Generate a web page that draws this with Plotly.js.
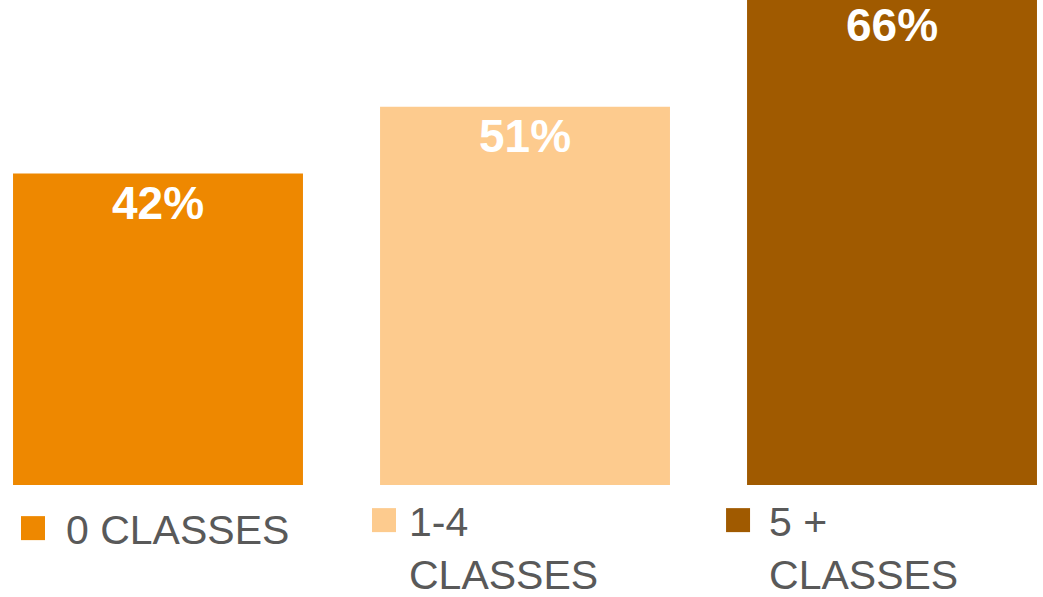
<!DOCTYPE html>
<html>
<head>
<meta charset="utf-8">
<script src="https://cdn.plot.ly/plotly-3.0.1.min.js"></script>
<style>html,body{margin:0;padding:0;background:#fff;}#chart{width:1043px;height:597px;}</style>
</head>
<body>
<div id="chart"></div>
<script>
const categories = ['0 CLASSES', '1-4 CLASSES', '5 + CLASSES'];
const legendLabels = ['0 CLASSES', '1-4<br>CLASSES', '5 +<br>CLASSES'];
const values = [42, 51, 66];
const valueLabels = values.map(v => v + '%');
const colors = ['#EE8800', '#FDCB8E', '#A05A00'];
const legendIds = ['legend', 'legend2', 'legend3'];

const traces = categories.map((c, i) => ({
  type: 'bar',
  x: [c],
  y: [values[i]],
  name: legendLabels[i],
  legend: legendIds[i],
  text: [valueLabels[i]],
  textposition: 'inside',
  insidetextanchor: 'end',
  textangle: 0,
  textfont: {family: 'Liberation Sans, Arial, sans-serif', size: 46, color: '#FFFFFF', weight: 'bold'},
  marker: {color: colors[i], line: {width: 0}},
  hoverinfo: 'skip',
  cliponaxis: true
}));

const legendFont = {family: 'Liberation Sans, Arial, sans-serif', size: 41, color: '#595959'};
function legendAt(x, y, itemwidth) {
  return {
    orientation: 'h',
    xref: 'container',
    yref: 'container',
    x: x,
    xanchor: 'left',
    y: y,
    yanchor: 'top',
    valign: 'top',
    itemwidth: itemwidth,
    font: legendFont,
    bgcolor: 'rgba(0,0,0,0)'
  };
}

const layout = {
  width: 1043,
  height: 597,
  margin: {l: 0, r: 0, t: 0, b: 112, pad: 0},
  paper_bgcolor: '#FFFFFF',
  plot_bgcolor: '#FFFFFF',
  barmode: 'overlay',
  bargap: 0.21,
  showlegend: true,
  font: {family: 'Liberation Sans, Arial, sans-serif', color: '#595959'},
  xaxis: {
    type: 'category',
    range: [-0.4305, 2.4114],
    showticklabels: false,
    showgrid: false,
    zeroline: false,
    showline: false,
    ticks: ''
  },
  yaxis: {
    range: [0, 65.4],
    showticklabels: false,
    showgrid: false,
    zeroline: false,
    showline: false,
    ticks: ''
  },
  legend: legendAt(0, 0.1709, 56),
  legend2: legendAt(0.3442, 0.1843, 40),
  legend3: legendAt(0.6779, 0.1843, 52)
};

Plotly.newPlot('chart', traces, layout, {displayModeBar: false, staticPlot: true}).then(() => {
  document.querySelectorAll('.legendpoints path').forEach(p => p.setAttribute('d', 'M12,12H-12V-12H12Z'));
});
</script>
</body>
</html>
